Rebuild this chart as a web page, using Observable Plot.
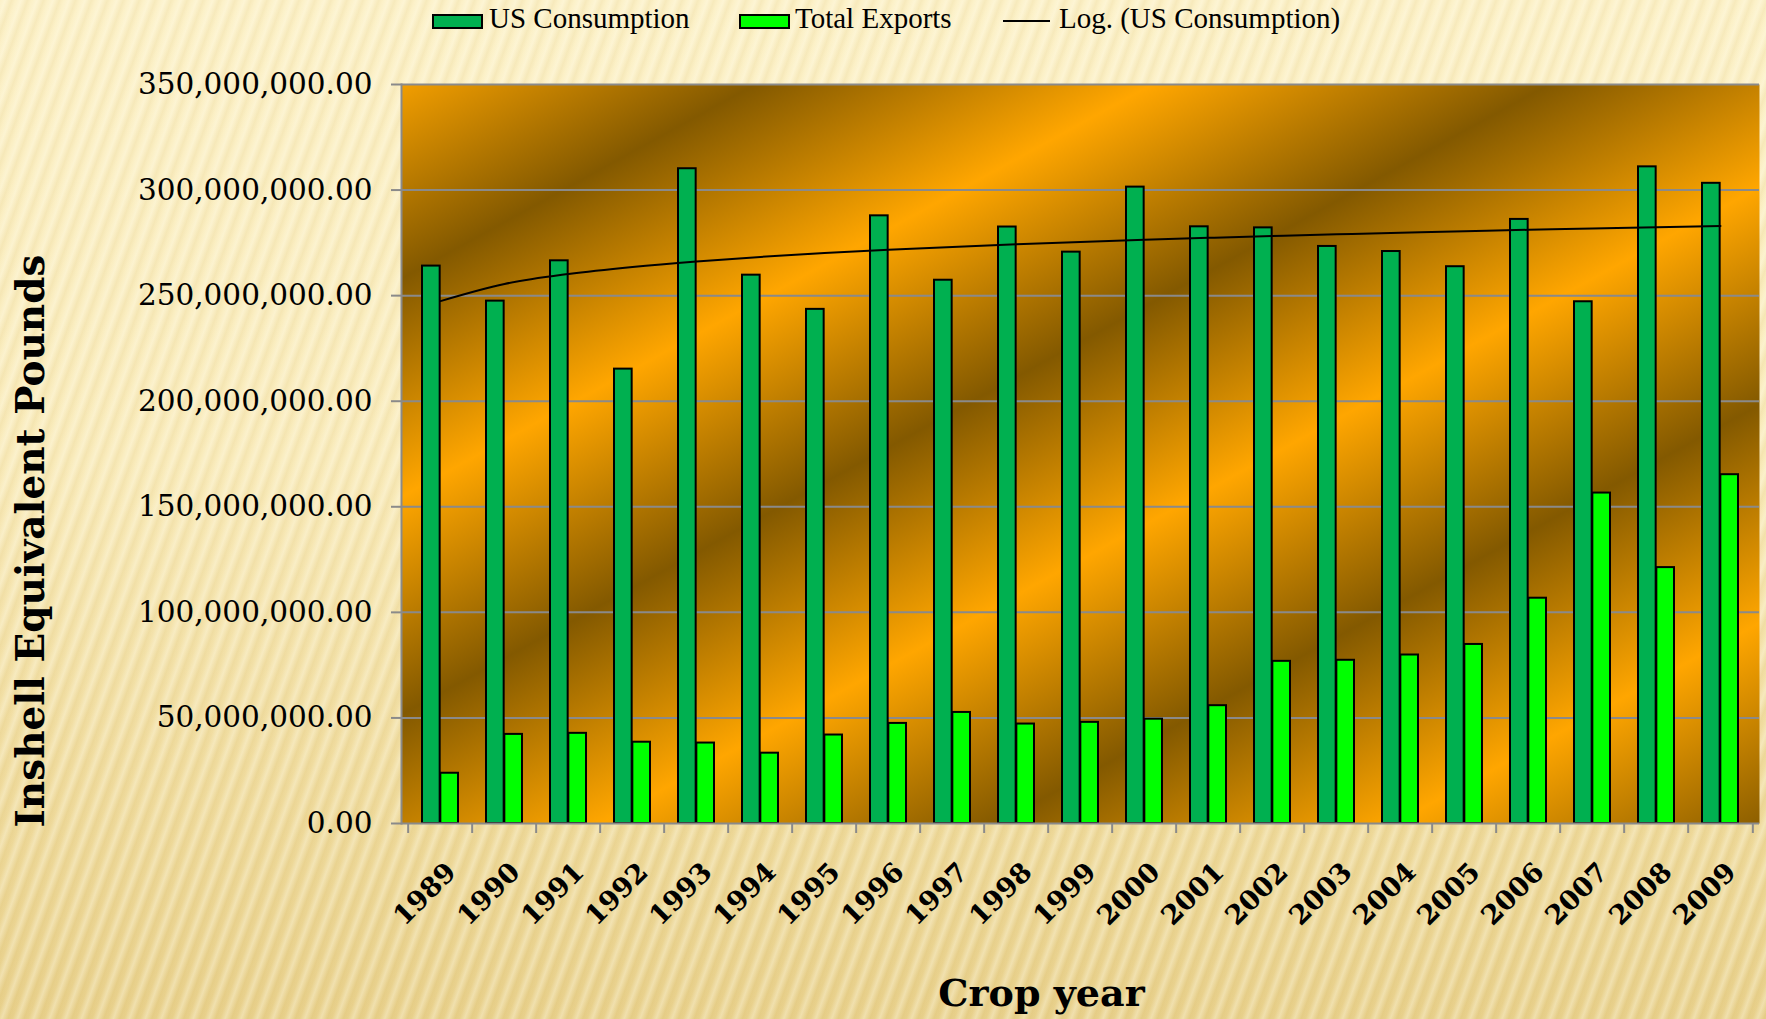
<!DOCTYPE html>
<html>
<head>
<meta charset="utf-8">
<script src="https://cdn.jsdelivr.net/npm/d3@7"></script>
<script src="https://cdn.jsdelivr.net/npm/@observablehq/plot@0.6"></script>
<style>
  html, body { margin: 0; padding: 0; }
  body {
    width: 1766px; height: 1019px; overflow: hidden;
    background:
      repeating-linear-gradient(110deg, rgba(255,255,255,0) 0px, rgba(255,252,235,0.35) 5px, rgba(205,175,90,0.11) 11px, rgba(255,255,255,0) 15px),
      linear-gradient(to bottom, #fcf1c8 0%, #f9ebbb 45%, #f0dc9f 75%, #e8d08b 100%);
  }
  #legend { position: relative; height: 40px; width: 1766px; font-family: "Liberation Serif", serif; font-size: 29px; color: #000; }
  #legend .sw { position: absolute; top: 14px; width: 47px; height: 11px; border: 2px solid #000; }
  #legend .ln { position: absolute; top: 20px; height: 2px; width: 47px; background: #000; }
  #legend .tx { position: absolute; top: 4px; line-height: 29px; white-space: nowrap; }
  #chart svg { display: block; overflow: visible; }
</style>
</head>
<body>
<div id="legend"></div>
<div id="chart"></div>
<script>
// ---- data ----
const years = ["1989","1990","1991","1992","1993","1994","1995","1996","1997","1998","1999",
               "2000","2001","2002","2003","2004","2005","2006","2007","2008","2009"];
const usConsumption = [264.0e6, 247.4e6, 266.5e6, 215.2e6, 310.1e6, 259.7e6, 243.5e6, 287.8e6, 257.3e6, 282.5e6, 270.6e6,
                       301.4e6, 282.6e6, 282.1e6, 273.3e6, 270.9e6, 263.7e6, 286.1e6, 247.1e6, 311.0e6, 303.2e6];
const totalExports = [23.8e6, 42.2e6, 42.7e6, 38.5e6, 38.1e6, 33.3e6, 41.9e6, 47.4e6, 52.6e6, 47.1e6, 47.9e6,
                      49.4e6, 55.8e6, 76.8e6, 77.3e6, 79.8e6, 84.8e6, 106.7e6, 156.5e6, 121.2e6, 165.2e6];
const yTicks = [0, 50e6, 100e6, 150e6, 200e6, 250e6, 300e6, 350e6];
const seriesNames = ["US Consumption", "Total Exports", "Log. (US Consumption)"];
const seriesColors = ["#00B050", "#00FF00", "#000000"];

// ---- logarithmic trendline (least squares on ln(index)), as Excel does ----
const L = usConsumption.map((_, i) => Math.log(i + 1));
const mL = d3.mean(L), mY = d3.mean(usConsumption);
const b = d3.sum(L, (l, i) => (l - mL) * (usConsumption[i] - mY)) / d3.sum(L, l => (l - mL) ** 2);
const a = mY - b * mL;

const rows = years.map((year, i) => ({year, consumption: usConsumption[i], exports: totalExports[i], trend: a + b * L[i]}));

// ---- layout ----
const W = 1766, H = 979, ML = 401, MR = 7, MT = 44, MB = 196;
const bw = (W - ML - MR) / years.length;

// gradient defs for plot area
const gradientDefs = () => {
  const ns = "http://www.w3.org/2000/svg";
  const defs = document.createElementNS(ns, "defs");
  const g = document.createElementNS(ns, "linearGradient");
  g.setAttribute("id", "plotbg");
  g.setAttribute("gradientUnits", "userSpaceOnUse");
  g.setAttribute("spreadMethod", "repeat");
  g.setAttribute("x1", 425); g.setAttribute("y1", 225);
  g.setAttribute("x2", 609); g.setAttribute("y2", 560);
  [[0, "#835900"], [0.5, "#FFA600"], [1, "#835900"]].forEach(([o, c]) => {
    const s = document.createElementNS(ns, "stop");
    s.setAttribute("offset", o); s.setAttribute("stop-color", c);
    g.appendChild(s);
  });
  defs.appendChild(g);
  return defs;
};

const serif = "DejaVu Serif";

const chart = Plot.plot({
  width: W, height: H,
  marginLeft: ML, marginRight: MR, marginTop: MT, marginBottom: MB,
  style: {background: "transparent", color: "#000", overflow: "visible"},
  x: {type: "band", domain: years, padding: 0, label: null},
  y: {domain: [0, 350e6], label: null},
  marks: [
    gradientDefs,
    Plot.frame({fill: "url(#plotbg)"}),
    Plot.gridY(yTicks.slice(1), {stroke: "#8a8a8a", strokeOpacity: 1, strokeWidth: 2}),
    Plot.barY(rows, {x: "year", y: "consumption", fill: seriesColors[0], stroke: "#000", strokeWidth: 2,
                     insetLeft: 14, insetRight: bw / 2}),
    Plot.barY(rows, {x: "year", y: "exports", fill: seriesColors[1], stroke: "#000", strokeWidth: 2,
                     insetLeft: bw / 2, insetRight: 14}),
    Plot.lineY(rows, {x: "year", y: "trend", stroke: "#000", strokeWidth: 2, curve: "monotone-x"}),
    Plot.ruleY([0], {stroke: "#8a8a8a", strokeWidth: 2}),
    Plot.frame({anchor: "left", stroke: "#8a8a8a", strokeWidth: 2}),
    Plot.axisY(yTicks, {tickFormat: d3.format(",.2f"), tickSize: 10, tickPadding: 19, label: null,
                        stroke: "#8a8a8a", strokeWidth: 2, fill: "#000",
                        fontSize: 29.5, fontFamily: serif}),
    // tick marks at category boundaries
    Plot.axisX(years, {tickSize: 10, tickFormat: () => "", label: null, stroke: "#8a8a8a", strokeWidth: 2, dx: -bw / 2}),
    Plot.axisX([years[years.length - 1]], {tickSize: 10, tickFormat: () => "", label: null, stroke: "#8a8a8a", strokeWidth: 2, dx: bw / 2}),
    // rotated year labels
    Plot.axisX(years, {tickSize: 0, tickPadding: 44, tickRotate: -45, label: null, fill: "#000", dx: 11,
                       fontSize: 27, fontWeight: "bold", fontFamily: serif}),
    // axis titles
    Plot.text(["Inshell Equivalent Pounds"], {frameAnchor: "left", dx: -370, dy: 87, rotate: -90,
                       textAnchor: "middle", lineAnchor: "middle",
                       fontSize: 39, fontWeight: "bold", fontFamily: serif, fill: "#000"}),
    Plot.text(["Crop year"], {frameAnchor: "bottom", dx: -39, dy: 170, textAnchor: "middle", lineAnchor: "middle",
                       fontSize: 38, fontWeight: "bold", fontFamily: serif, fill: "#000"})
  ]
});
document.getElementById("chart").appendChild(chart);

// ---- legend ----
const legend = document.getElementById("legend");
const items = [
  {kind: "sw", left: 432, textLeft: 489},
  {kind: "sw", left: 739, textLeft: 795},
  {kind: "ln", left: 1003, textLeft: 1059}
];
items.forEach((it, i) => {
  const m = document.createElement("div");
  m.className = it.kind;
  m.style.left = it.left + "px";
  if (it.kind === "sw") m.style.background = seriesColors[i];
  legend.appendChild(m);
  const t = document.createElement("div");
  t.className = "tx";
  t.style.left = it.textLeft + "px";
  t.textContent = seriesNames[i];
  legend.appendChild(t);
});
</script>
</body>
</html>
